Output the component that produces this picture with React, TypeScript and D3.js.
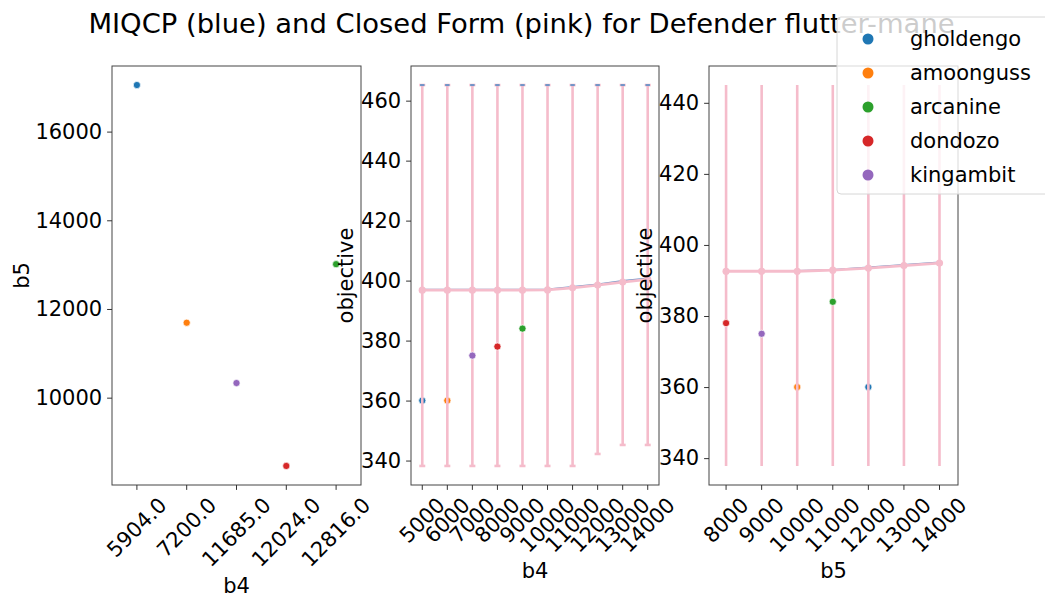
import { useEffect, useRef } from 'react';
import * as d3 from 'd3';

const W = 1045;
const H = 598;
const FONT = 'DejaVu Sans, Verdana, sans-serif';
const FS = 21;

const pokemon = ['gholdengo', 'amoonguss', 'arcanine', 'dondozo', 'kingambit'];
const pokemonColors = ['#1f77b4', '#ff7f0e', '#2ca02c', '#d62728', '#9467bd'];
// these two sit beneath the pink error bars in the original drawing order
const belowBars = ['gholdengo', 'amoonguss'];

// left panel: b4 (as category) vs b5
const leftB4 = ['5904.0', '7200.0', '11685.0', '12024.0', '12816.0'];
const leftB5 = [17050, 11690, 10330, 8460, 13010];
const leftPokemon = ['gholdengo', 'amoonguss', 'kingambit', 'dondozo', 'arcanine'];
const leftYTicks = [10000, 12000, 14000, 16000];

// middle panel: objective vs b4
const midB4 = [5000, 6000, 7000, 8000, 9000, 10000, 11000, 12000, 13000, 14000];
const midBlue = [397.0, 397.0, 397.0, 397.0, 397.0, 397.1, 397.9, 398.8, 399.9, 400.8];
const midPink = [396.8, 396.8, 396.8, 396.8, 396.8, 396.9, 397.6, 398.5, 399.5, 400.4];
const midLow = [338.2, 338.2, 338.2, 338.2, 338.2, 338.2, 338.2, 342.2, 345.2, 345.2];
const midHigh = [465.2, 465.2, 465.2, 465.2, 465.2, 465.2, 465.2, 465.2, 465.2, 465.2];
const midPtB4 = [5000, 6000, 7000, 8000, 9000];
const midPtObj = [360, 360, 375, 378, 384];
const midPtPokemon = ['gholdengo', 'amoonguss', 'kingambit', 'dondozo', 'arcanine'];
const midYTicks = [340, 360, 380, 400, 420, 440, 460];

// right panel: objective vs b5
const rightB5 = [8000, 9000, 10000, 11000, 12000, 13000, 14000];
const rightBlue = [392.7, 392.7, 392.7, 393.0, 393.7, 394.4, 395.1];
const rightPink = [392.6, 392.6, 392.6, 392.9, 393.5, 394.2, 394.9];
const rightLow = [337.8, 337.8, 337.8, 337.8, 337.8, 337.8, 337.8];
const rightHigh = [445.0, 445.0, 445.0, 445.0, 445.0, 445.0, 445.0];
const rightPtB5 = [8000, 9000, 10000, 11000, 12000];
const rightPtObj = [378, 375, 360, 384, 360];
const rightPtPokemon = ['dondozo', 'kingambit', 'amoonguss', 'arcanine', 'gholdengo'];
const rightYTicks = [340, 360, 380, 400, 420, 440];

const PINK = '#f5bccb';
const BLUE = '#6f95c8';

const pad = (lo: number, hi: number): [number, number] => {
  const m = (hi - lo) * 0.05;
  return [lo - m, hi + m];
};

const colorOf = (name: string) => pokemonColors[pokemon.indexOf(name)];

const TOP = 66;
const BOTTOM = 485;
const DOT_R = 3.6;

export default function App() {
  const svgRef = useRef<SVGSVGElement>(null);

  useEffect(() => {
    if (!svgRef.current) return;
    document.body.style.margin = '0';
    const svg = d3.select(svgRef.current);
    svg.selectAll('*').remove();

    // title
    svg
      .append('text')
      .attr('x', 521.5)
      .attr('y', 33)
      .attr('text-anchor', 'middle')
      .attr('font-size', 27.4)
      .attr('font-family', FONT)
      .text('MIQCP (blue) and Closed Form (pink) for Defender flutter-mane');

    const yAxis = (g: any, y: any, ticks: number[], left: number) => {
      const ax = g
        .append('g')
        .attr('transform', `translate(${left},0)`)
        .call(d3.axisLeft(y).tickValues(ticks).tickSize(4.9).tickPadding(4.9).tickFormat(d3.format('d')));
      ax.select('.domain').remove();
      ax.selectAll('text').attr('font-size', FS).attr('font-family', FONT).attr('fill', '#000');
      ax.selectAll('line').attr('stroke', '#333');
    };

    // matplotlib-style 45° labels: rotated box centred under the tick
    const xAxisRotated = (g: any, positions: number[], labels: string[]) => {
      let maxBottom = 0;
      positions.forEach((px, i) => {
        g.append('line')
          .attr('x1', px)
          .attr('x2', px)
          .attr('y1', BOTTOM)
          .attr('y2', BOTTOM + 4.9)
          .attr('stroke', '#333');
        const t = g
          .append('text')
          .attr('text-anchor', 'middle')
          .attr('dominant-baseline', 'central')
          .attr('font-size', FS)
          .attr('font-family', FONT)
          .text(labels[i]);
        const w = (t.node() as SVGTextElement).getComputedTextLength();
        const h = FS * 1.15;
        const half = (w + h) / (2 * Math.SQRT2);
        const cy = 493 + half;
        t.attr('transform', `translate(${px},${cy}) rotate(-45)`);
        maxBottom = Math.max(maxBottom, cy + half);
      });
      return maxBottom;
    };

    const frame = (g: any, x0: number, x1: number) => {
      g.append('rect')
        .attr('x', x0)
        .attr('y', TOP)
        .attr('width', x1 - x0)
        .attr('height', BOTTOM - TOP)
        .attr('fill', 'none')
        .attr('stroke', '#444')
        .attr('stroke-width', 1);
    };

    const xLabel = (g: any, cx: number, baseline: number, text: string) => {
      g.append('text')
        .attr('x', cx)
        .attr('y', baseline)
        .attr('text-anchor', 'middle')
        .attr('font-size', FS)
        .attr('font-family', FONT)
        .text(text);
    };

    const yLabel = (g: any, cx: number, text: string) => {
      g.append('text')
        .attr('transform', `translate(${cx},${(TOP + BOTTOM) / 2}) rotate(-90)`)
        .attr('text-anchor', 'middle')
        .attr('dominant-baseline', 'central')
        .attr('font-size', FS)
        .attr('font-family', FONT)
        .text(text);
    };

    const dots = (g: any, pts: { x: number; y: number; name: string }[], x: any, y: any) => {
      g.selectAll(null)
        .data(pts)
        .join('circle')
        .attr('cx', (d: any) => x(d.x))
        .attr('cy', (d: any) => y(d.y))
        .attr('r', DOT_R)
        .attr('fill', (d: any) => colorOf(d.name))
        .attr('stroke', '#fff')
        .attr('stroke-width', 0.7);
    };

    // ---------- left panel ----------
    {
      const L = 112;
      const R = 361;
      const g = svg.append('g');
      const x = d3.scalePoint<string>().domain(leftB4).range([L, R]).padding(0.5);
      const y = d3
        .scaleLinear()
        .domain(pad(d3.min(leftB5)!, d3.max(leftB5)!))
        .range([BOTTOM, TOP]);
      frame(g, L, R);
      yAxis(g, y, leftYTicks, L);
      const mb = xAxisRotated(g, leftB4.map((d) => x(d)!), leftB4);
      g.selectAll(null)
        .data(leftB4.map((d, i) => ({ c: d, v: leftB5[i], name: leftPokemon[i] })))
        .join('circle')
        .attr('cx', (d: any) => x(d.c)!)
        .attr('cy', (d: any) => y(d.v))
        .attr('r', DOT_R)
        .attr('fill', (d: any) => colorOf(d.name))
        .attr('stroke', '#fff')
        .attr('stroke-width', 0.7);
      xLabel(g, (L + R) / 2, Math.min(mb + 6 + FS * 0.76, 594), 'b4');
      yLabel(g, 22, 'b5');
    }

    // ---------- series panels (middle / right) ----------
    const seriesPanel = (
      L: number,
      R: number,
      xDomain: [number, number],
      xs: number[],
      blue: number[],
      pink: number[],
      low: number[],
      high: number[],
      ptX: number[],
      ptY: number[],
      ptNames: string[],
      yTicks: number[],
      caps: boolean,
      xl: string,
      ylx: number
    ) => {
      const g = svg.append('g');
      const x = d3.scaleLinear().domain(xDomain).range([L, R]);
      const y = d3
        .scaleLinear()
        .domain(pad(d3.min(low)!, d3.max(high)!))
        .range([BOTTOM, TOP]);
      frame(g, L, R);
      yAxis(g, y, yTicks, L);
      const mb = xAxisRotated(g, xs.map((d) => x(d)), xs.map((d) => String(d)));

      const pts = ptX.map((v, i) => ({ x: v, y: ptY[i], name: ptNames[i] }));
      dots(g, pts.filter((p) => belowBars.includes(p.name)), x, y);

      const line = d3
        .line<number>()
        .x((_, i) => x(xs[i]))
        .y((d) => y(d));

      // MIQCP (blue)
      g.append('path')
        .attr('d', line(blue))
        .attr('fill', 'none')
        .attr('stroke', BLUE)
        .attr('stroke-width', 1.6);

      // closed form (pink) error bars
      xs.forEach((v, i) => {
        g.append('line')
          .attr('x1', x(v))
          .attr('x2', x(v))
          .attr('y1', y(low[i]))
          .attr('y2', y(high[i]))
          .attr('stroke', PINK)
          .attr('stroke-width', 2.6);
        if (caps) {
          [low[i], high[i]].forEach((c) => {
            g.append('line')
              .attr('x1', x(v) - 3)
              .attr('x2', x(v) + 3)
              .attr('y1', y(c))
              .attr('y2', y(c))
              .attr('stroke', PINK)
              .attr('stroke-width', 2.6);
          });
          g.append('line')
            .attr('x1', x(v) - 2.2)
            .attr('x2', x(v) + 2.2)
            .attr('y1', y(high[i]))
            .attr('y2', y(high[i]))
            .attr('stroke', BLUE)
            .attr('stroke-width', 2);
        }
      });

      g.append('path')
        .attr('d', line(pink))
        .attr('fill', 'none')
        .attr('stroke', PINK)
        .attr('stroke-width', 2.8);
      g.selectAll(null)
        .data(pink)
        .join('circle')
        .attr('cx', (_: any, i: number) => x(xs[i]))
        .attr('cy', (d: number) => y(d))
        .attr('r', 3.6)
        .attr('fill', PINK);

      dots(g, pts.filter((p) => !belowBars.includes(p.name)), x, y);

      xLabel(g, (L + R) / 2, mb + 4.9 + FS * 0.76, xl);
      yLabel(g, ylx, 'objective');
    };

    seriesPanel(411, 659, pad(5000, 14000), midB4, midBlue, midPink, midLow, midHigh,
      midPtB4, midPtObj, midPtPokemon, midYTicks, true, 'b4', 346);
    seriesPanel(709, 958, [7520, 14520], rightB5, rightBlue, rightPink, rightLow, rightHigh,
      rightPtB5, rightPtObj, rightPtPokemon, rightYTicks, false, 'b5', 645);

    // legend (semi-transparent, sits over the title and the right panel)
    const lg = svg.append('g');
    lg.append('rect')
      .attr('x', 837)
      .attr('y', 17)
      .attr('width', 240)
      .attr('height', 177)
      .attr('rx', 4)
      .attr('fill', 'rgba(255,255,255,0.8)')
      .attr('stroke', '#d6d6d6');
    pokemon.forEach((p, i) => {
      const cy = 39 + i * 34;
      lg.append('circle').attr('cx', 868).attr('cy', cy).attr('r', 5.5).attr('fill', pokemonColors[i]);
      lg.append('text')
        .attr('x', 910)
        .attr('y', cy)
        .attr('dominant-baseline', 'central')
        .attr('font-size', FS)
        .attr('font-family', FONT)
        .text(p);
    });
  }, []);

  return <svg ref={svgRef} width={W} height={H} style={{ display: 'block', background: '#fff' }} />;
}
